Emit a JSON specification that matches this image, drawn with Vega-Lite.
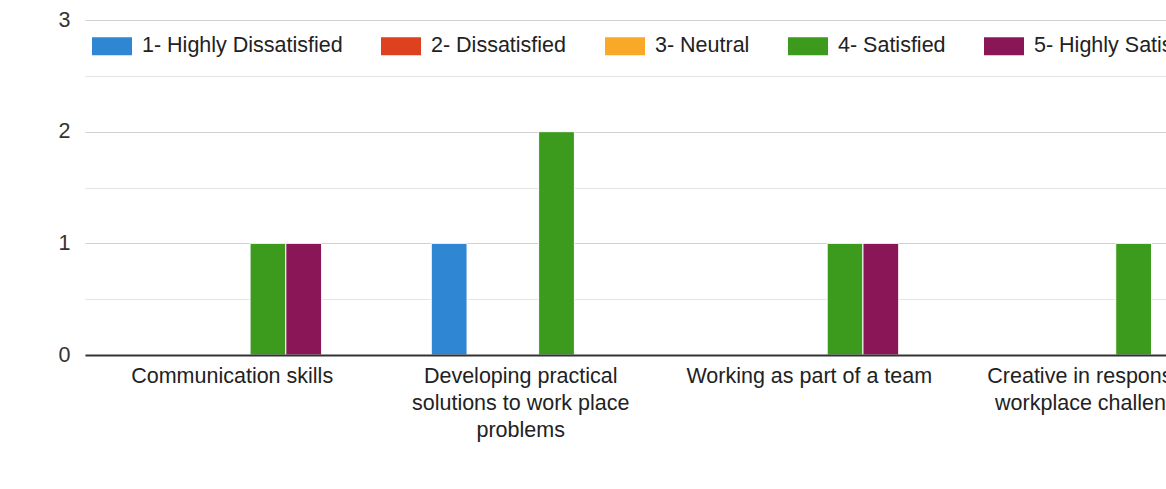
{
  "$schema": "https://vega.github.io/schema/vega-lite/v6.json",
  "autosize": {"type": "none"},
  "width": 1160,
  "height": 335,
  "padding": {"left": 85, "top": 20, "right": 0, "bottom": 134},
  "background": "white",
  "config": {"font": "Liberation Sans", "view": {"stroke": null}},
  "data": {
    "values": [
      {"skill": "Communication skills", "rating": "4- Satisfied", "count": 1},
      {"skill": "Communication skills", "rating": "5- Highly Satisfied", "count": 1},
      {"skill": "Developing practical solutions to work place problems", "rating": "1- Highly Dissatisfied", "count": 1},
      {"skill": "Developing practical solutions to work place problems", "rating": "4- Satisfied", "count": 2},
      {"skill": "Working as part of a team", "rating": "4- Satisfied", "count": 1},
      {"skill": "Working as part of a team", "rating": "5- Highly Satisfied", "count": 1},
      {"skill": "Creative in response to workplace challenges", "rating": "4- Satisfied", "count": 1}
    ]
  },
  "mark": {"type": "bar", "stroke": "white", "strokeWidth": 1},
  "encoding": {
    "x": {
      "field": "skill",
      "type": "nominal",
      "sort": null,
      "scale": {"paddingInner": 0.38, "paddingOuter": 0.2},
      "axis": {
        "title": null,
        "zindex": 1,
        "labelAngle": 0,
        "labelFontSize": 21.5,
        "labelColor": "#222222",
        "labelBaseline": "top",
        "labelPadding": 10,
        "labelLineHeight": 27,
        "labelLimit": 0,
        "labelBound": false,
        "labelOverlap": false,
        "ticks": false,
        "domainColor": "#333333",
        "domainWidth": 2,
        "labelExpr": "datum.value == 'Developing practical solutions to work place problems' ? ['Developing practical', 'solutions to work place', 'problems'] : datum.value == 'Creative in response to workplace challenges' ? ['Creative in response to', 'workplace challenges'] : datum.label"
      }
    },
    "xOffset": {
      "field": "rating",
      "type": "nominal",
      "scale": {
        "domain": ["1- Highly Dissatisfied", "2- Dissatisfied", "3- Neutral", "4- Satisfied", "5- Highly Satisfied"],
        "paddingInner": 0,
        "paddingOuter": 0
      }
    },
    "y": {
      "field": "count",
      "type": "quantitative",
      "scale": {"domain": [0, 3], "nice": false},
      "axis": {
        "title": null,
        "values": [0, 0.5, 1, 1.5, 2, 2.5, 3],
        "labelExpr": "datum.value % 1 == 0 ? format(datum.value, 'd') : ''",
        "domain": false,
        "ticks": false,
        "labelPadding": 15,
        "labelFontSize": 21.5,
        "labelColor": "#333333",
        "gridColor": {"condition": {"test": "datum.value % 1 != 0", "value": "#e4e4e4"}, "value": "#d0d0d0"},
        "gridWidth": 1.2
      }
    },
    "color": {
      "field": "rating",
      "type": "nominal",
      "scale": {
        "domain": ["1- Highly Dissatisfied", "2- Dissatisfied", "3- Neutral", "4- Satisfied", "5- Highly Satisfied"],
        "range": ["#2f86d2", "#dd4120", "#f9a828", "#3c9a1d", "#8a1658"]
      },
      "legend": {
        "title": null,
        "orient": "none",
        "legendX": 7,
        "legendY": 6,
        "direction": "horizontal",
        "symbolType": "M-1,-0.45L1,-0.45L1,0.45L-1,0.45Z",
        "symbolSize": 1600,
        "symbolStrokeWidth": 0,
        "symbolOpacity": 1,
        "labelFontSize": 21.5,
        "labelColor": "#222222",
        "labelOffset": 10,
        "labelLimit": 0,
        "columnPadding": 38,
        "padding": 0
      }
    }
  }
}
